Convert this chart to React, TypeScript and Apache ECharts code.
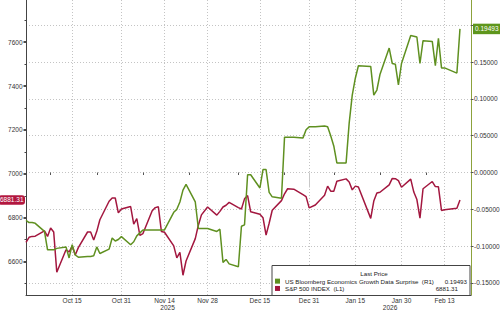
import React, { useEffect, useRef } from 'react';
import * as echarts from 'echarts';

const DATES = [
  '2025-09-30',
  '2025-10-01', '2025-10-02', '2025-10-03', '2025-10-06', '2025-10-07', '2025-10-08', '2025-10-09', '2025-10-10',
  '2025-10-13', '2025-10-14', '2025-10-15', '2025-10-16', '2025-10-17', '2025-10-20', '2025-10-21', '2025-10-22',
  '2025-10-23', '2025-10-24', '2025-10-27', '2025-10-28', '2025-10-29', '2025-10-30', '2025-10-31',
  '2025-11-03', '2025-11-04', '2025-11-05', '2025-11-06', '2025-11-07', '2025-11-10', '2025-11-11', '2025-11-12',
  '2025-11-13', '2025-11-14', '2025-11-17', '2025-11-18', '2025-11-19', '2025-11-20', '2025-11-21', '2025-11-24',
  '2025-11-25', '2025-11-26', '2025-11-28',
  '2025-12-01', '2025-12-02', '2025-12-03', '2025-12-04', '2025-12-05', '2025-12-08', '2025-12-09', '2025-12-10',
  '2025-12-11', '2025-12-12', '2025-12-15', '2025-12-16', '2025-12-17', '2025-12-18', '2025-12-19', '2025-12-22',
  '2025-12-23', '2025-12-24', '2025-12-26', '2025-12-29', '2025-12-30', '2025-12-31',
  '2026-01-02', '2026-01-05', '2026-01-06', '2026-01-07', '2026-01-08', '2026-01-09', '2026-01-12', '2026-01-13',
  '2026-01-14', '2026-01-15', '2026-01-16', '2026-01-20', '2026-01-21', '2026-01-22', '2026-01-23', '2026-01-26',
  '2026-01-27', '2026-01-28', '2026-01-29', '2026-01-30',
  '2026-02-02', '2026-02-03', '2026-02-04', '2026-02-05', '2026-02-06', '2026-02-09', '2026-02-10', '2026-02-11',
  '2026-02-12', '2026-02-13', '2026-02-17', '2026-02-18',
];

const SPX = [
  6688,
  6711, 6715, 6716, 6740, 6715, 6753, 6735, 6552,
  6654, 6644, 6671, 6630, 6664, 6735, 6735, 6699,
  6738, 6791, 6875, 6890, 6890, 6822, 6840,
  6851, 6771, 6796, 6720, 6728, 6832, 6846, 6850,
  6737, 6734, 6672, 6617, 6642, 6538, 6603, 6705,
  6766, 6813, 6849,
  6812, 6829, 6849, 6857, 6870, 6846, 6840, 6886,
  6901, 6827, 6816, 6800, 6721, 6775, 6834, 6878,
  6909, 6932, 6930, 6905, 6896, 6845,
  6858, 6902, 6944, 6921, 6921, 6966, 6977, 6963,
  6927, 6944, 6940, 6797, 6876, 6913, 6916, 6950,
  6979, 6978, 6969, 6939,
  6976, 6917, 6883, 6798, 6932, 6965, 6942, 6941,
  6833, 6836, 6843, 6881.31,
];

const SURPRISE = [
  -0.065,
  -0.068, -0.068, -0.069, -0.08, -0.105, -0.105, -0.105, -0.103,
  -0.101, -0.116, -0.098, -0.112, -0.115, -0.114, -0.114, -0.113,
  -0.101, -0.11, -0.104, -0.089, -0.093, -0.091, -0.087,
  -0.098, -0.094, -0.086, -0.082, -0.078, -0.078, -0.078, -0.078,
  -0.078, -0.078, -0.054, -0.05, -0.04, -0.024, -0.016, -0.04,
  -0.076, -0.076, -0.076,
  -0.08, -0.077, -0.122, -0.118, -0.124, -0.128, -0.073, -0.071,
  -0.003, -0.003, -0.021, 0.004, 0.004, -0.027, -0.033, -0.035,
  0.048, 0.048, 0.048, 0.047, 0.058, 0.062,
  0.062, 0.063, 0.062, 0.05, 0.036, 0.013, 0.013, 0.067,
  0.105, 0.128, 0.145, 0.144, 0.105, 0.112, 0.133, 0.169,
  0.148, 0.147, 0.119, 0.148,
  0.186, 0.185, 0.184, 0.148, 0.179, 0.178, 0.145, 0.182,
  0.142, 0.142, 0.135, 0.19493,
];

const SERIES_NAMES = ['US Bloomberg Economics Growth Data Surprise  (R1)', 'S&P 500 INDEX  (L1)'];
const LEGEND_TITLE = 'Last Price';
const MONTHS = ['Jan', 'Feb', 'Mar', 'Apr', 'May', 'Jun', 'Jul', 'Aug', 'Sep', 'Oct', 'Nov', 'Dec'];

const X_LABEL_DATES = ['2025-10-15', '2025-10-31', '2025-11-14', '2025-11-28', '2025-12-15', '2025-12-31', '2026-01-15', '2026-01-30', '2026-02-13'];
const X_MINOR_TICK_DATES = ['2025-10-08', '2025-10-23', '2025-11-07', '2025-11-22', '2025-12-08', '2025-12-23', '2026-01-08', '2026-01-23', '2026-02-07'];
const YEAR_BREAK = '2025-12-31';
const X_MIN = '2025-09-30';
const X_MAX = '2026-02-21T14:00';

const LEFT_TICKS = [6600, 6800, 7000, 7200, 7400, 7600];
const LEFT_MINOR_TICKS = [6500, 6700, 6900, 7100, 7300, 7500, 7700];
const LEFT_MIN = 6448;
const LEFT_MAX = 7792;

const RIGHT_TICKS = [-0.15, -0.1, -0.05, 0, 0.05, 0.1, 0.15, 0.2];
const RIGHT_LABELS = [-0.15, -0.1, -0.05, 0, 0.05, 0.1, 0.15];
const RIGHT_MIN = -0.1663;
const RIGHT_MAX = 0.2342;

const GREEN = '#5f9020';
const RED = '#a3173f';
const FONT = 'Liberation Sans, Arial, sans-serif';
const FS = 6.5;
const LFS = 6.2;

const ts = (s: string) => new Date(s.length === 10 ? s + 'T00:00:00' : s).getTime();

export default function App() {
  const ref = useRef<HTMLDivElement>(null);

  useEffect(() => {
    if (!ref.current) return;
    const chart = echarts.init(ref.current, undefined, { renderer: 'svg' });
    const last = DATES.length - 1;
    const xMin = ts(X_MIN);
    const xMax = ts(X_MAX);
    const yb = ts(YEAR_BREAK);
    const lastVals = [SURPRISE[last].toFixed(5), SPX[last].toFixed(2)];

    const hidden = { axisLine: { show: false }, splitLine: { show: false } };
    const xBase = { type: 'value', min: xMin, max: xMax, position: 'bottom', scale: true };

    const option: any = {
      animation: false,
      backgroundColor: '#ffffff',
      textStyle: { fontFamily: FONT },
      grid: { left: 26, right: 29, top: 0, bottom: 15, containLabel: false, outerBoundsMode: 'none' },
      xAxis: [
        {
          ...xBase,
          axisLine: { show: true, onZero: false, lineStyle: { color: '#444', width: 1 } },
          axisTick: { show: true, length: 0, customValues: X_LABEL_DATES.map(ts), lineStyle: { color: '#444' } },
          axisLabel: {
            customValues: X_LABEL_DATES.map(ts),
            formatter: (v: number) => {
              const d = new Date(v);
              return MONTHS[d.getMonth()] + ' ' + d.getDate();
            },
            fontSize: FS,
            color: '#333',
            margin: 2,
            fontFamily: FONT,
          },
          splitLine: { show: true, lineStyle: { color: '#c4c4c4', width: 1, type: [1, 2] } },
        },
        {
          ...xBase,
          ...hidden,
          axisTick: { show: true, length: 2.5, customValues: X_MINOR_TICK_DATES.map(ts), lineStyle: { color: '#555' } },
          axisLabel: { show: false },
        },
        {
          ...xBase,
          ...hidden,
          axisTick: { show: true, length: 15, customValues: [yb], lineStyle: { color: '#c8c8c8' } },
          axisLabel: {
            customValues: [(xMin + yb) / 2, (yb + xMax) / 2],
            formatter: (v: number) => String(new Date(v).getFullYear()),
            fontSize: FS,
            color: '#333',
            margin: 9,
            fontFamily: FONT,
          },
        },
      ],
      yAxis: [
        {
          type: 'value',
          position: 'left',
          min: LEFT_MIN,
          max: LEFT_MAX,
          axisLine: { show: true, onZero: false, lineStyle: { color: '#444', width: 1 } },
          axisTick: { show: true, length: 2.5, customValues: LEFT_TICKS, lineStyle: { color: '#111', width: 1.5 } },
          axisLabel: {
            customValues: LEFT_TICKS,
            formatter: (v: number) => String(Math.round(v)),
            fontSize: FS,
            color: '#333',
            margin: 3.5,
            fontFamily: FONT,
          },
          splitLine: { show: false },
        },
        {
          type: 'value',
          position: 'right',
          min: RIGHT_MIN,
          max: RIGHT_MAX,
          axisLine: { show: true, onZero: false, lineStyle: { color: '#8ca23c', width: 1 } },
          axisTick: { show: true, length: 2.5, customValues: RIGHT_TICKS, lineStyle: { color: '#555', width: 1 } },
          axisLabel: {
            customValues: RIGHT_LABELS,
            formatter: (v: number) => v.toFixed(5),
            fontSize: FS,
            color: '#333',
            margin: 3,
            fontFamily: FONT,
          },
          splitLine: { show: true, lineStyle: { color: '#c4c4c4', width: 1, type: [1, 2] } },
        },
        {
          type: 'value',
          position: 'left',
          min: LEFT_MIN,
          max: LEFT_MAX,
          ...hidden,
          axisTick: { show: true, length: 1.5, customValues: LEFT_MINOR_TICKS, lineStyle: { color: '#444', width: 1 } },
          axisLabel: { show: false },
        },
        {
          type: 'value',
          position: 'left',
          min: LEFT_MIN,
          max: LEFT_MAX,
          ...hidden,
          axisTick: { show: false },
          axisLabel: {
            customValues: [SPX[last]],
            formatter: (v: number) => v.toFixed(2),
            fontSize: FS,
            color: '#ffffff',
            backgroundColor: '#b2173f',
            borderRadius: 3,
            padding: [1.5, 1.5, 1, 1.5],
            margin: 1,
            fontFamily: FONT,
          },
        },
        {
          type: 'value',
          position: 'right',
          min: RIGHT_MIN,
          max: RIGHT_MAX,
          ...hidden,
          axisTick: { show: false },
          axisLabel: {
            customValues: [SURPRISE[last]],
            formatter: (v: number) => v.toFixed(5),
            fontSize: FS,
            color: '#ffffff',
            backgroundColor: '#5e961c',
            padding: [2, 2, 1.5, 2],
            margin: 2,
            fontFamily: FONT,
          },
        },
      ],
      legend: {
        data: SERIES_NAMES,
        orient: 'vertical',
        left: 275,
        top: 277.5,
        itemWidth: 5,
        itemHeight: 5,
        itemGap: 0,
        icon: 'rect',
        selectedMode: false,
        padding: 0,
        z: 10,
        formatter: (name: string) => {
          const i = SERIES_NAMES.indexOf(name);
          return '{n|' + name + '}{' + (i === 0 ? 'v' : 'w') + '|' + lastVals[i] + '}';
        },
        textStyle: {
          fontSize: LFS,
          color: '#222',
          lineHeight: 7.3,
          fontFamily: FONT,
          rich: {
            n: { width: 150, fontSize: LFS, lineHeight: 7.3, fontFamily: FONT, color: '#222' },
            v: { width: 32, align: 'right', fontSize: LFS, lineHeight: 7.3, fontFamily: FONT, color: '#222' },
            w: { width: 23, align: 'right', fontSize: LFS, lineHeight: 7.3, fontFamily: FONT, color: '#222' },
          },
        },
      },
      graphic: [
        {
          type: 'rect',
          z: 5,
          shape: { x: 272, y: 265.5, width: 198, height: 30 },
          style: { fill: '#ffffff', stroke: '#444', lineWidth: 1 },
        },
        {
          type: 'text',
          z: 6,
          x: 374,
          y: 273.5,
          style: { text: LEGEND_TITLE, fontSize: LFS, fill: '#222', align: 'center', verticalAlign: 'middle', fontFamily: FONT },
        },
      ],
      series: [
        {
          name: SERIES_NAMES[1],
          type: 'line',
          xAxisIndex: 0,
          yAxisIndex: 0,
          data: DATES.map((d, i) => [ts(d), SPX[i]]),
          showSymbol: false,
          symbol: 'none',
          lineStyle: { color: RED, width: 1.5 },
          itemStyle: { color: RED },
          z: 2,
        },
        {
          name: SERIES_NAMES[0],
          type: 'line',
          xAxisIndex: 0,
          yAxisIndex: 1,
          data: DATES.map((d, i) => [ts(d), SURPRISE[i]]),
          showSymbol: false,
          symbol: 'none',
          lineStyle: { color: GREEN, width: 1.5 },
          itemStyle: { color: GREEN },
          z: 3,
        },
      ],
    };

    chart.setOption(option);
    return () => chart.dispose();
  }, []);

  return (
    <div
      ref={ref}
      style={{ position: 'absolute', left: 0, top: 0, width: 500, height: 310, background: '#fff' }}
    />
  );
}
